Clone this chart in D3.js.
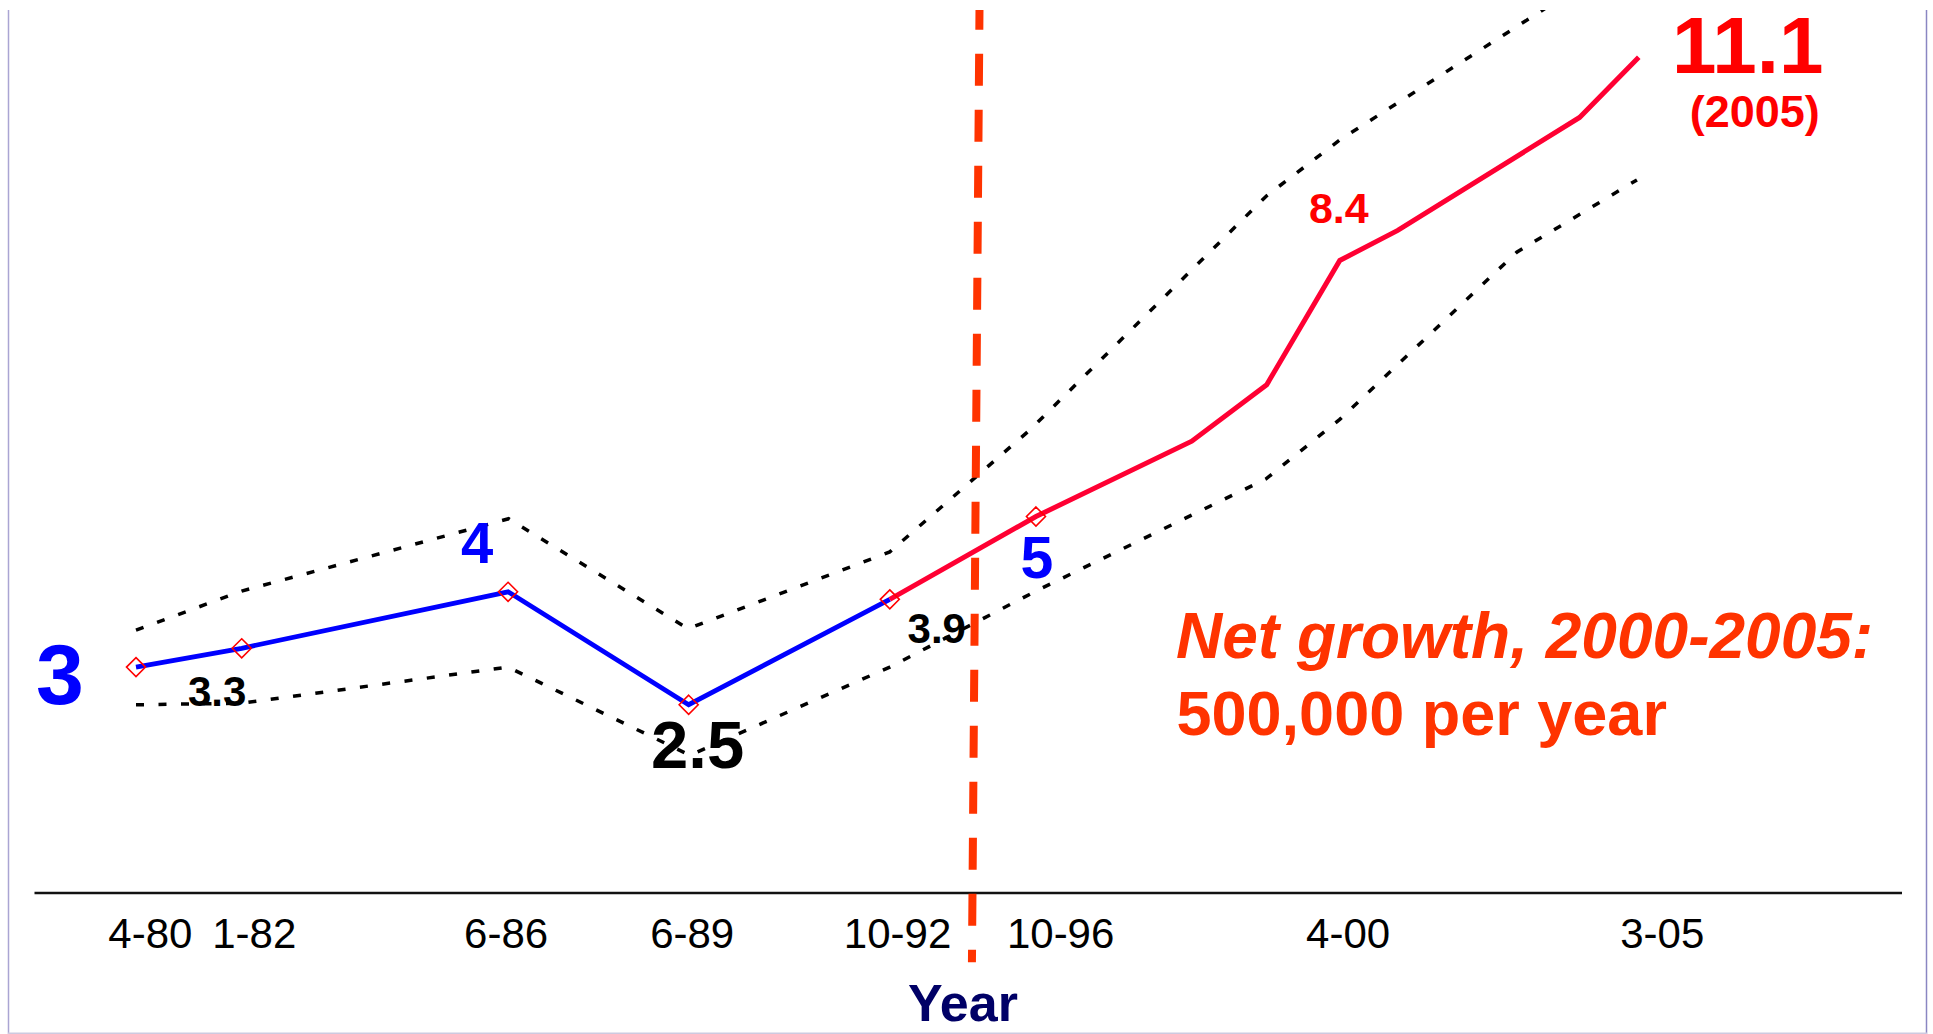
<!DOCTYPE html>
<html><head><meta charset="utf-8">
<script src="https://cdn.jsdelivr.net/npm/d3@7"></script>
<style>
html,body{margin:0;padding:0;background:#fff;}
svg{display:block;font-family:"Liberation Sans",Arial,Helvetica,sans-serif;}
</style></head><body>
<svg id="chart" width="1933" height="1034"></svg>
<script>
// ---------- data (years as fractional years, values in millions) ----------
const mainYears  = [1980.25, 1982.00, 1986.41, 1989.40, 1992.73, 1995.15, 1997.73, 1998.97, 2000.18, 2001.14, 2004.15, 2005.13];
const mainValues = [3.0,     3.25,    4.0,     2.5,     3.9,     5.0,     6.0,     6.75,    8.4,     8.8,     10.3,    11.1];
const bluePart = [0, 4];   // index range drawn in blue
const redPart  = [4, 11];  // index range drawn in red
const markerIdx = [0, 1, 2, 3, 4, 5];

const upperYears  = [1980.25, 1982.00, 1986.42, 1989.39, 1992.73, 1995.05, 1998.97, 2000.18, 2003.41, 2005.13];
const upperValues = [3.49,    4.01,    4.97,    3.51,    4.53,    6.15,    9.26,    10.0,    11.66,   12.54];

const lowerYears  = [1980.25, 1982.00, 1986.41, 1989.42, 1992.73, 1995.15, 1998.96, 2000.18, 2003.11, 2005.10];
const lowerValues = [2.50,    2.52,    3.00,    1.83,    3.00,    4.01,    5.50,    6.29,    8.51,    9.47];

const tickLabels = ["4-80", "1-82", "6-86", "6-89", "10-92", "10-96", "4-00", "3-05"];
const tickYears  = [1980.48, 1982.20, 1986.37, 1989.45, 1992.85, 1995.55, 2000.31, 2005.51];

const pointLabels   = ["3", "3.3", "4", "2.5", "3.9", "5", "8.4", "11.1", "(2005)"];
const pointLabelIdx = [0,   1,     2,   3,     4,     5,   8,     11,     11];

const dividerYears  = [1994.215, 1994.09];
const dividerValues = [11.73, -0.92];

const noteLine1 = "Net growth, 2000-2005:";
const noteLine2 = "500,000 per year";
const axisTitle = "Year";

// ---------- styles ----------
const labelStyle = [
  {dx:-76,  dy:37,  size:86, fill:"#0000ff"},
  {dx:-24.5,dy:58,  size:42, fill:"#000000"},
  {dx:-31,  dy:-29, size:58, fill:"#0000ff"},
  {dx:9,    dy:63,  size:67, fill:"#000000"},
  {dx:47,   dy:43.5,size:42, fill:"#000000"},
  {dx:1,    dy:61.5,size:59, fill:"#0000ff"},
  {dx:-1,   dy:-37.5,size:43, fill:"#ff0000"},
  {dx:109,  dy:16,  size:80, fill:"#ff0000"},
  {dx:116,  dy:70,  size:45, fill:"#ff0000"}
];

// ---------- scales ----------
const x = d3.scaleLinear().domain([1980, 2006]).range([120.9, 1691.3]);
const y = d3.scaleLinear().domain([0, 11]).range([893, 64.7]);

const svg = d3.select("#chart");
svg.append("rect").attr("width",1933).attr("height",1034).attr("fill","#fff");
svg.append("defs").append("clipPath").attr("id","clip")
  .append("rect").attr("x",9).attr("y",10).attr("width",1917).attr("height",1023);
const g = svg.append("g").attr("clip-path","url(#clip)");
const tg = svg.append("g");

// frame
svg.append("line").attr("x1",8.5).attr("x2",8.5).attr("y1",10).attr("y2",1034)
  .attr("stroke","#aaa5d3").attr("stroke-width",1.5);
svg.append("line").attr("x1",1926.5).attr("x2",1926.5).attr("y1",10).attr("y2",1034)
  .attr("stroke","#8a86c2").attr("stroke-width",1.5);
svg.append("line").attr("x1",8).attr("x2",1927).attr("y1",1033.2).attr("y2",1033.2)
  .attr("stroke","#cdcae0").attr("stroke-width",1.5);

// x axis
const axis = d3.axisBottom(x).tickValues(tickYears).tickFormat((d,i)=>tickLabels[i]).tickSize(0);
const ag = g.append("g").attr("transform",`translate(0,${y(0)})`).call(axis);
ag.select(".domain").remove();
ag.selectAll("text").attr("y",55).attr("dy",0)
  .attr("font-size",42).attr("fill","#000")
  .attr("font-family","'Liberation Sans',Arial,sans-serif");
g.append("line").attr("x1",34.5).attr("x2",1902).attr("y1",y(0)).attr("y2",y(0))
  .attr("stroke","#111").attr("stroke-width",2.5);

// bands
const line = d3.line().x(d=>x(d[0])).y(d=>y(d[1]));
const zip = (a,b)=>a.map((v,i)=>[v,b[i]]);
[zip(upperYears,upperValues), zip(lowerYears,lowerValues)].forEach(pts=>{
  g.append("path").attr("d",line(pts)).attr("fill","none")
    .attr("stroke","#000").attr("stroke-width",3.5).attr("stroke-dasharray","8,14.5");
});

// main lines
const mainPts = zip(mainYears, mainValues);
g.append("path").attr("d",line(mainPts.slice(bluePart[0],bluePart[1]+1)))
  .attr("fill","none").attr("stroke","#0000ff").attr("stroke-width",4.8).attr("stroke-linejoin","miter");
g.append("path").attr("d",line(mainPts.slice(redPart[0],redPart[1]+1)))
  .attr("fill","none").attr("stroke","#ff0033").attr("stroke-width",5).attr("stroke-linejoin","miter");

// markers
const ms = 9.5;
g.selectAll(".mk").data(markerIdx).join("path").attr("class","mk")
  .attr("d",i=>{const cx=x(mainYears[i]), cy=y(mainValues[i]);
    return `M${cx},${cy-ms}L${cx+ms},${cy}L${cx},${cy+ms}L${cx-ms},${cy}Z`;})
  .attr("fill","none").attr("stroke","#ff0000").attr("stroke-width",1.6);

// divider
g.append("line")
  .attr("x1",x(dividerYears[0])).attr("y1",y(dividerValues[0]))
  .attr("x2",x(dividerYears[1])).attr("y2",y(dividerValues[1]))
  .attr("stroke","#ff3300").attr("stroke-width",8)
  .attr("stroke-dasharray","32,24").attr("stroke-dashoffset",12);

// point labels
tg.selectAll(".pl").data(pointLabels).join("text").attr("class","pl")
  .attr("x",(d,i)=>x(mainYears[pointLabelIdx[i]])+labelStyle[i].dx)
  .attr("y",(d,i)=>y(mainValues[pointLabelIdx[i]])+labelStyle[i].dy)
  .attr("text-anchor","middle").attr("font-weight","bold")
  .attr("font-size",(d,i)=>labelStyle[i].size).attr("fill",(d,i)=>labelStyle[i].fill)
  .text(d=>d);

// note
tg.append("text").attr("x",1176).attr("y",658).attr("font-size",64)
  .attr("font-weight","bold").attr("font-style","italic").attr("fill","#ff3300").text(noteLine1);
tg.append("text").attr("x",1176.5).attr("y",735).attr("font-size",63)
  .attr("font-weight","bold").attr("fill","#ff3300").text(noteLine2);

// axis title
tg.append("text").attr("x",963).attr("y",1021).attr("text-anchor","middle")
  .attr("font-size",52).attr("font-weight","bold").attr("fill","#000066").text(axisTitle);
</script>
</body></html>
